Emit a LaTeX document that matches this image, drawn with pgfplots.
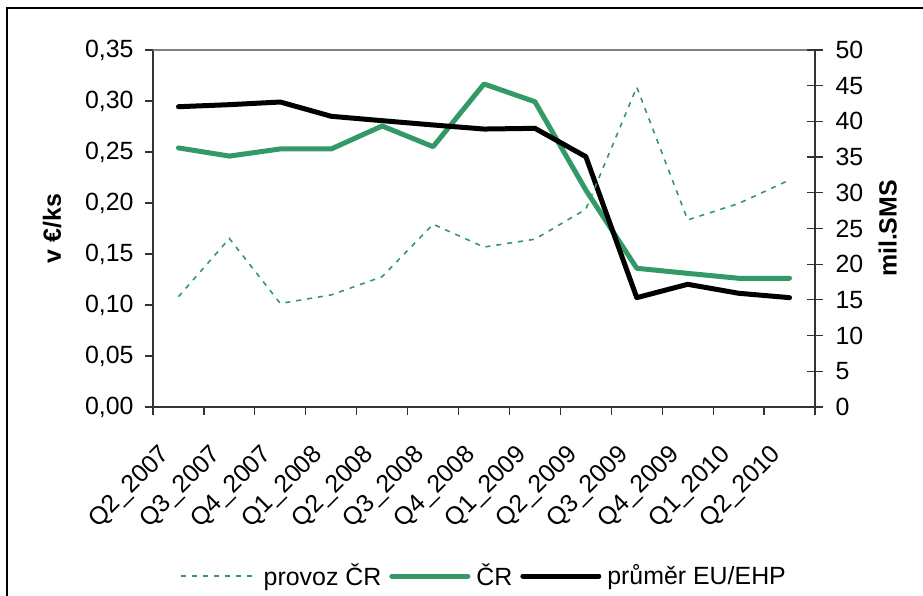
\documentclass[border=0pt]{standalone}
\usepackage{pgfplots}
\pgfplotsset{compat=1.18}
\usepackage{fontspec}
\setmainfont{Liberation Sans}
\definecolor{cgreen}{RGB}{51,153,102}
\definecolor{axdark}{RGB}{51,51,51}
\begin{document}
\fontsize{25}{30}\selectfont
\begin{tikzpicture}
\useasboundingbox (0,0) rectangle (923bp,596bp);
\draw[line width=1.3bp] (7bp,-2bp) -- (7bp,588bp) -- (925bp,588bp);
\begin{axis}[
  at={(153bp,189bp)}, anchor=south west,
  scale only axis, width=662bp, height=357bp,
  xmin=0.5, xmax=13.5, ymin=0, ymax=0.35,
  axis x line*=bottom, axis y line*=left,
  axis line style={draw=axdark, line width=1.4bp, -},
  every tick/.style={draw=axdark, line width=1.2bp},
  tick align=outside,
  xtick={1,...,13},
  xticklabels={Q2\_2007,Q3\_2007,Q4\_2007,Q1\_2008,Q2\_2008,Q3\_2008,Q4\_2008,Q1\_2009,Q2\_2009,Q3\_2009,Q4\_2009,Q1\_2010,Q2\_2010},
  major x tick style={draw=none},
  minor xtick={0.5,1.5,...,13.5},
  minor tick length=8bp,
  major tick length=8bp,
  xticklabel style={font=\fontsize{25}{30}\selectfont, xshift=-12bp, yshift=-36bp, rotate=45, anchor=east, inner sep=0pt},
  ytick={0,0.05,...,0.35},
  scaled y ticks=false,
  yticklabel style={xshift=-3bp, /pgf/number format/.cd, fixed, fixed zerofill, precision=2, use comma},
  /pgf/number format/assume math mode=true,
  ylabel={\bfseries v €/ks},
  ylabel style={at={(axis description cs:-0.1526,0.5)}, anchor=center, rotate=0},
  clip=false,
]
\draw[draw={rgb,255:red,128;green,128;blue,128}, line width=1.2bp] (rel axis cs:0,1) -- (rel axis cs:1,1);
\addplot[cgreen, line width=5bp, line join=round, line cap=round] coordinates {
(1,0.254) (2,0.246) (3,0.253) (4,0.253) (5,0.2755) (6,0.2552) (7,0.3167) (8,0.2993) (9,0.2127) (10,0.136) (11,0.131) (12,0.1262) (13,0.1262)};
\addplot[black, line width=5bp, line join=round, line cap=round] coordinates {
(1,0.2944) (2,0.2964) (3,0.299) (4,0.285) (5,0.2807) (6,0.2765) (7,0.2725) (8,0.2732) (9,0.2454) (10,0.1072) (11,0.1203) (12,0.1115) (13,0.1072)};
\end{axis}
\begin{axis}[
  at={(153bp,189bp)}, anchor=south west,
  scale only axis, width=662bp, height=357bp,
  xmin=0.5, xmax=13.5, ymin=0, ymax=50,
  axis x line=none, axis y line*=right,
  axis line style={draw=axdark, line width=1.4bp, -},
  every tick/.style={draw=axdark, line width=1.2bp},
  tick align=center, major tick length=16bp,
  ytick={0,5,...,50},
  yticklabel style={xshift=4bp},
  /pgf/number format/assume math mode=true,
  ylabel={\bfseries mil.SMS},
  ylabel style={at={(axis description cs:1.110,0.5)}, anchor=center, rotate=0},
  legend style={at={(axis description cs:0.5,-0.4734)}, anchor=center, draw=none, fill=none,
    legend columns=3, inner sep=0pt,
    /tikz/every even column/.append style={column sep=6bp},
    /tikz/every odd column/.append style={column sep=4bp},
    nodes={inner sep=2bp}},
  legend image code/.code={\draw[#1] (0bp,0bp) -- (76bp,0bp);},
  clip=false,
]
\addplot[cgreen, line width=1.6bp, dash pattern=on 5bp off 6bp] coordinates {
(1,15.45) (2,23.6) (3,14.5) (4,15.7) (5,18.25) (6,25.6) (7,22.4) (8,23.5) (9,27.7) (10,44.8) (11,26.2) (12,28.5) (13,31.8)};
\addlegendentry{provoz ČR}
\addlegendimage{cgreen, line width=5bp, line cap=round}
\addlegendentry{ČR}
\addlegendimage{black, line width=5bp, line cap=round}
\addlegendentry{průměr EU/EHP}
\end{axis}
\end{tikzpicture}
\end{document}
